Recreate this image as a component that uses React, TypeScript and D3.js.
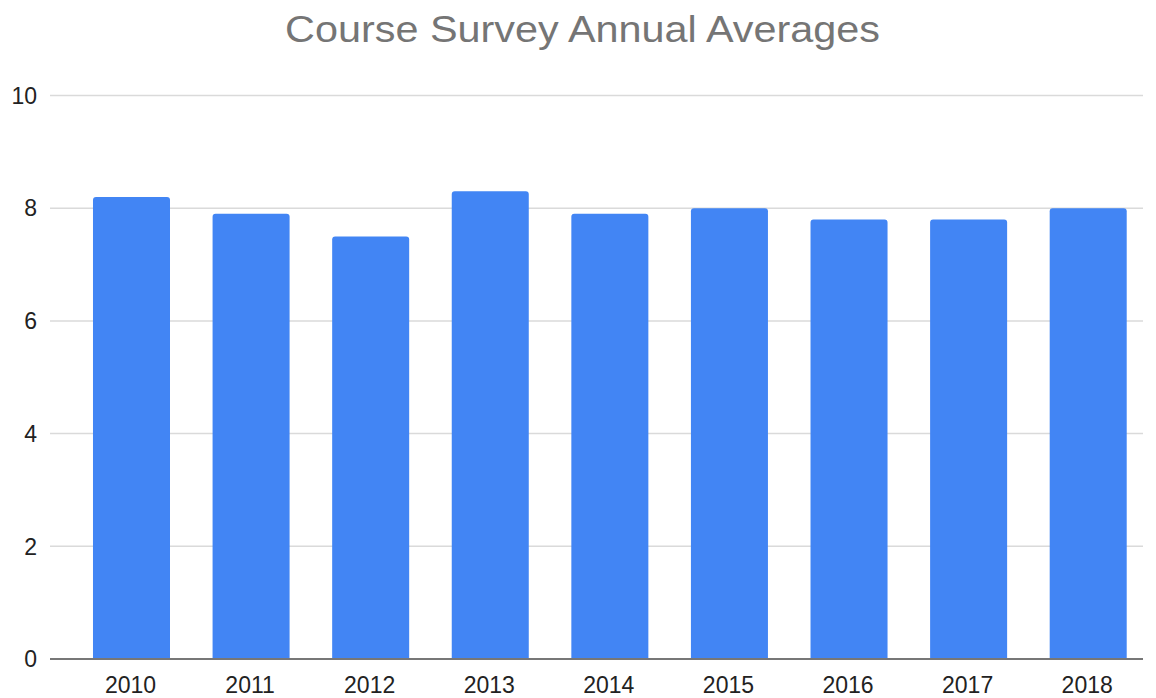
import React from "react";
import * as d3 from "d3";

const years = ["2010", "2011", "2012", "2013", "2014", "2015", "2016", "2017", "2018"];
const averages = [8.2, 7.9, 7.5, 8.3, 7.9, 8.0, 7.8, 7.8, 8.0];
const yTicks = [0, 2, 4, 6, 8, 10];
const title = "Course Survey Annual Averages";

const W = 1156;
const H = 698;

export default function App() {
  const x = d3
    .scaleBand<string>()
    .domain(years)
    .range([71.7, 1148])
    .paddingInner(0.356)
    .paddingOuter(0.178);
  const y = d3.scaleLinear().domain([0, 10]).range([659, 95.5]);
  const gridX0 = 50;
  const gridX1 = 1143;
  const r = 3;

  const barPath = (x0: number, w: number, y0: number, y1: number) => {
    const p = d3.path();
    p.moveTo(x0, y1);
    p.lineTo(x0, y0 + r);
    p.arcTo(x0, y0, x0 + r, y0, r);
    p.lineTo(x0 + w - r, y0);
    p.arcTo(x0 + w, y0, x0 + w, y0 + r, r);
    p.lineTo(x0 + w, y1);
    p.closePath();
    return p.toString();
  };

  return (
    <svg
      width={W}
      height={H}
      style={{ position: "absolute", left: 0, top: 0, background: "#fff" }}
      fontFamily="'Liberation Sans', Arial, sans-serif"
    >
      <text
        x={582.5}
        y={42}
        textAnchor="middle"
        fontSize={37.5}
        fill="#757575"
        textLength={595}
        lengthAdjust="spacingAndGlyphs"
      >
        {title}
      </text>
      {yTicks.map((t) => (
        <g key={t}>
          {t !== 0 && (
            <line x1={gridX0} x2={gridX1} y1={y(t)} y2={y(t)} stroke="#dadada" strokeWidth={1.5} />
          )}
          <text x={37} y={y(t)} dy="0.36em" textAnchor="end" fontSize={23} fill="#222">
            {t}
          </text>
        </g>
      ))}
      {years.map((yr, i) => (
        <path
          key={yr}
          d={barPath(x(yr)!, x.bandwidth(), y(averages[i]), y(0))}
          fill="#4285f4"
        />
      ))}
      <line x1={gridX0} x2={gridX1} y1={y(0)} y2={y(0)} stroke="#777" strokeWidth={2} />
      {years.map((yr) => (
        <text
          key={yr}
          x={x(yr)! + x.bandwidth() / 2 - 1}
          y={693}
          textAnchor="middle"
          fontSize={23}
          fill="#222"
        >
          {yr}
        </text>
      ))}
    </svg>
  );
}
